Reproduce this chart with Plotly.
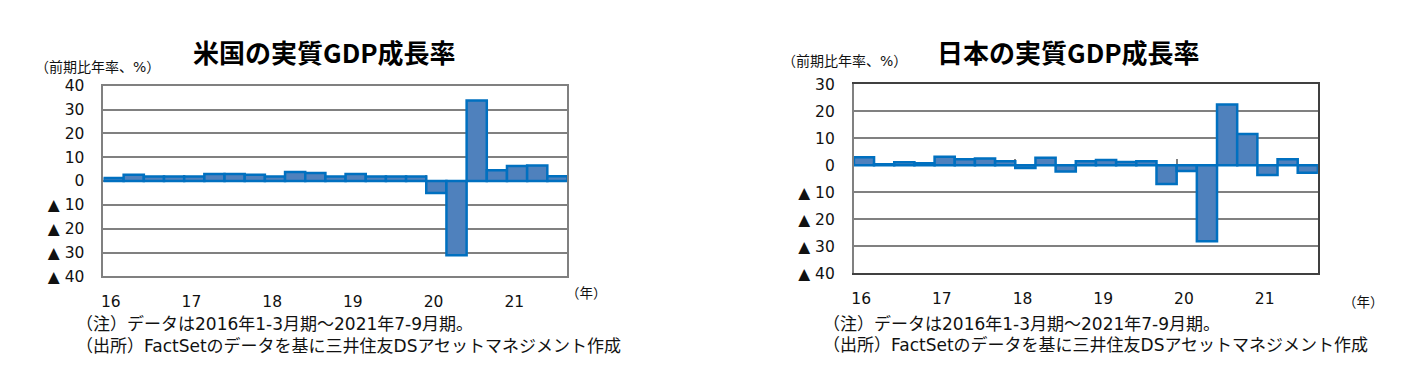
import plotly.graph_objects as go

# ---------------- data ----------------
quarters = ["2016Q1", "2016Q2", "2016Q3", "2016Q4",
            "2017Q1", "2017Q2", "2017Q3", "2017Q4",
            "2018Q1", "2018Q2", "2018Q3", "2018Q4",
            "2019Q1", "2019Q2", "2019Q3", "2019Q4",
            "2020Q1", "2020Q2", "2020Q3", "2020Q4",
            "2021Q1", "2021Q2", "2021Q3"]
us_gdp = [1.3, 2.6, 1.9, 1.9, 1.9, 3.0, 3.0, 2.6, 1.9, 3.8, 3.4, 1.9,
          3.0, 1.9, 1.9, 1.9, -5.0, -31.2, 33.8, 4.5, 6.3, 6.5, 2.0]
jp_gdp = [3.0, 0.4, 1.1, 0.8, 3.2, 2.2, 2.5, 1.5, -1.0, 2.8, -2.3, 1.5,
          2.0, 1.2, 1.5, -6.9, -2.1, -28.1, 22.5, 11.6, -3.6, 2.2, -2.8]
year_labels = ["16", "17", "18", "19", "20", "21"]
us_yticks = [40, 30, 20, 10, 0, -10, -20, -30, -40]
jp_yticks = [30, 20, 10, 0, -10, -20, -30, -40]
us_title = "米国の実質GDP成長率"
jp_title = "日本の実質GDP成長率"
y_unit = "（前期比年率、%）"
x_unit = "（年）"
note1 = "（注）データは2016年1-3月期～2021年7-9月期。"
note2 = "（出所）FactSetのデータを基に三井住友DSアセットマネジメント作成"

# ---------------- helpers ----------------
W, H = 1407, 370
FONT = "DejaVu Sans, Noto Sans CJK JP, sans-serif"
CJK = "Noto Sans CJK JP, sans-serif"
GRAY = "#808080"
DARK = "#404040"
BAR_FILL = "#4F81BD"
BAR_LINE = "#0070C0"
TXT = "#111111"

n = len(quarters)
xpos = list(range(n))
year_start = [quarters.index(f"20{y}Q1") for y in year_labels]
label_vals = [s - 0.14 for s in year_start]
boundary_vals = [s - 0.5 for s in year_start[1:]]


def tick_text(v):
    return "0" if v == 0 else (str(v) if v > 0 else "▲ " + str(-v))


def px_x(p):
    return p / W


def px_y(p):
    return 1 - p / H


us_dom_x = [px_x(100.7), px_x(565.7)]
us_dom_y = [px_y(281), px_y(80.7)]
jp_dom_x = [px_x(852.7), px_x(1317.7)]
jp_dom_y = [px_y(278), px_y(79)]
us_range = [min(us_yticks), max(us_yticks)]
jp_range = [min(jp_yticks), max(jp_yticks)]


def zero_pos(dom, rng):
    return dom[0] + (0 - rng[0]) / (rng[1] - rng[0]) * (dom[1] - dom[0])


fig = go.Figure()
fig.add_trace(go.Bar(x=xpos, y=us_gdp, xaxis="x", yaxis="y",
                     marker=dict(color=BAR_FILL, line=dict(color=BAR_LINE, width=2.5)),
                     width=1, showlegend=False, hoverinfo="skip"))
fig.add_trace(go.Bar(x=xpos, y=jp_gdp, xaxis="x2", yaxis="y2",
                     marker=dict(color=BAR_FILL, line=dict(color=BAR_LINE, width=2.5)),
                     width=1, showlegend=False, hoverinfo="skip"))
fig.add_trace(go.Scatter(x=[None], y=[None], xaxis="x3", yaxis="y", showlegend=False, hoverinfo="skip"))
fig.add_trace(go.Scatter(x=[None], y=[None], xaxis="x4", yaxis="y2", showlegend=False, hoverinfo="skip"))
fig.add_trace(go.Scatter(x=[None], y=[None], xaxis="x2", yaxis="y3", showlegend=False, hoverinfo="skip"))

xrange = [-0.5, n - 0.5]
tickfont = dict(family=FONT, size=15.5, color=TXT)

common_x = dict(range=xrange, tickmode="array", tickvals=label_vals, ticktext=year_labels,
                ticks="outside", ticklen=10, tickcolor="rgba(0,0,0,0)", tickfont=tickfont,
                showgrid=False, zeroline=False, showline=True, linewidth=2, fixedrange=True)
common_y = dict(tickmode="array", ticks="outside", ticklen=14, tickcolor="rgba(0,0,0,0)",
                tickfont=tickfont, showgrid=True, gridcolor=GRAY, gridwidth=2,
                zeroline=True, zerolinecolor=GRAY, zerolinewidth=2,
                showline=True, linecolor=GRAY, linewidth=2, fixedrange=True)
zero_tick = dict(range=xrange, tickmode="array", tickvals=boundary_vals, ticks="inside",
                 ticklen=6, tickwidth=2, tickcolor=GRAY, showticklabels=False,
                 showline=False, showgrid=False, zeroline=False, layer="below traces",
                 anchor="free", fixedrange=True)

fig.update_layout(
    width=W, height=H,
    margin=dict(l=0, r=0, t=0, b=0),
    paper_bgcolor="white", plot_bgcolor="white",
    bargap=0, barmode="overlay",
    font=dict(family=FONT, color=TXT),
    xaxis=dict(domain=us_dom_x, anchor="y", linecolor=GRAY, mirror=True, **common_x),
    yaxis=dict(domain=us_dom_y, anchor="x", range=us_range, tickvals=us_yticks,
               ticktext=[tick_text(v) for v in us_yticks], mirror=True, **common_y),
    xaxis2=dict(domain=jp_dom_x, anchor="y2", linecolor=DARK, mirror=True, **common_x),
    yaxis2=dict(domain=jp_dom_y, anchor="x2", range=jp_range, tickvals=jp_yticks,
                ticktext=[tick_text(v) for v in jp_yticks], mirror=False, **common_y),
    xaxis3=dict(overlaying="x", position=zero_pos(us_dom_y, us_range), **zero_tick),
    xaxis4=dict(overlaying="x2", position=zero_pos(jp_dom_y, jp_range), **zero_tick),
    yaxis3=dict(overlaying="y2", anchor="x2", side="right", range=jp_range, showline=True,
                linecolor=DARK, linewidth=2, showticklabels=False, ticks="",
                showgrid=False, zeroline=False, fixedrange=True),
)

ann = []


def add_text(text, x, y, size, xanchor="left", bold=False, color=TXT, family=FONT):
    ann.append(dict(text=f"<b>{text}</b>" if bold else text, x=px_x(x), y=px_y(y),
                    xref="paper", yref="paper", xanchor=xanchor, yanchor="middle",
                    showarrow=False, font=dict(family=family, size=size, color=color)))


add_text(us_title, 321.7, 45, 26, "center", bold=True, color="#000000", family=CJK)
add_text(jp_title, 1068, 45, 26, "center", bold=True, color="#000000", family=CJK)
add_text(y_unit, 30, 61, 14)
add_text(y_unit, 779, 55, 14)
add_text(x_unit, 585, 298, 13.5, "center")
add_text(x_unit, 1363, 308, 13.5, "center")
add_text(note1, 71, 331, 17)
add_text(note2, 71, 354, 17)
add_text(note1, 820, 331, 17)
add_text(note2, 820, 353, 17)
fig.update_layout(annotations=ann)

fig.write_html("out.html",
               config={"displayModeBar": False, "staticPlot": True},
               post_script="document.body.style.margin='0';document.body.style.padding='0';")
